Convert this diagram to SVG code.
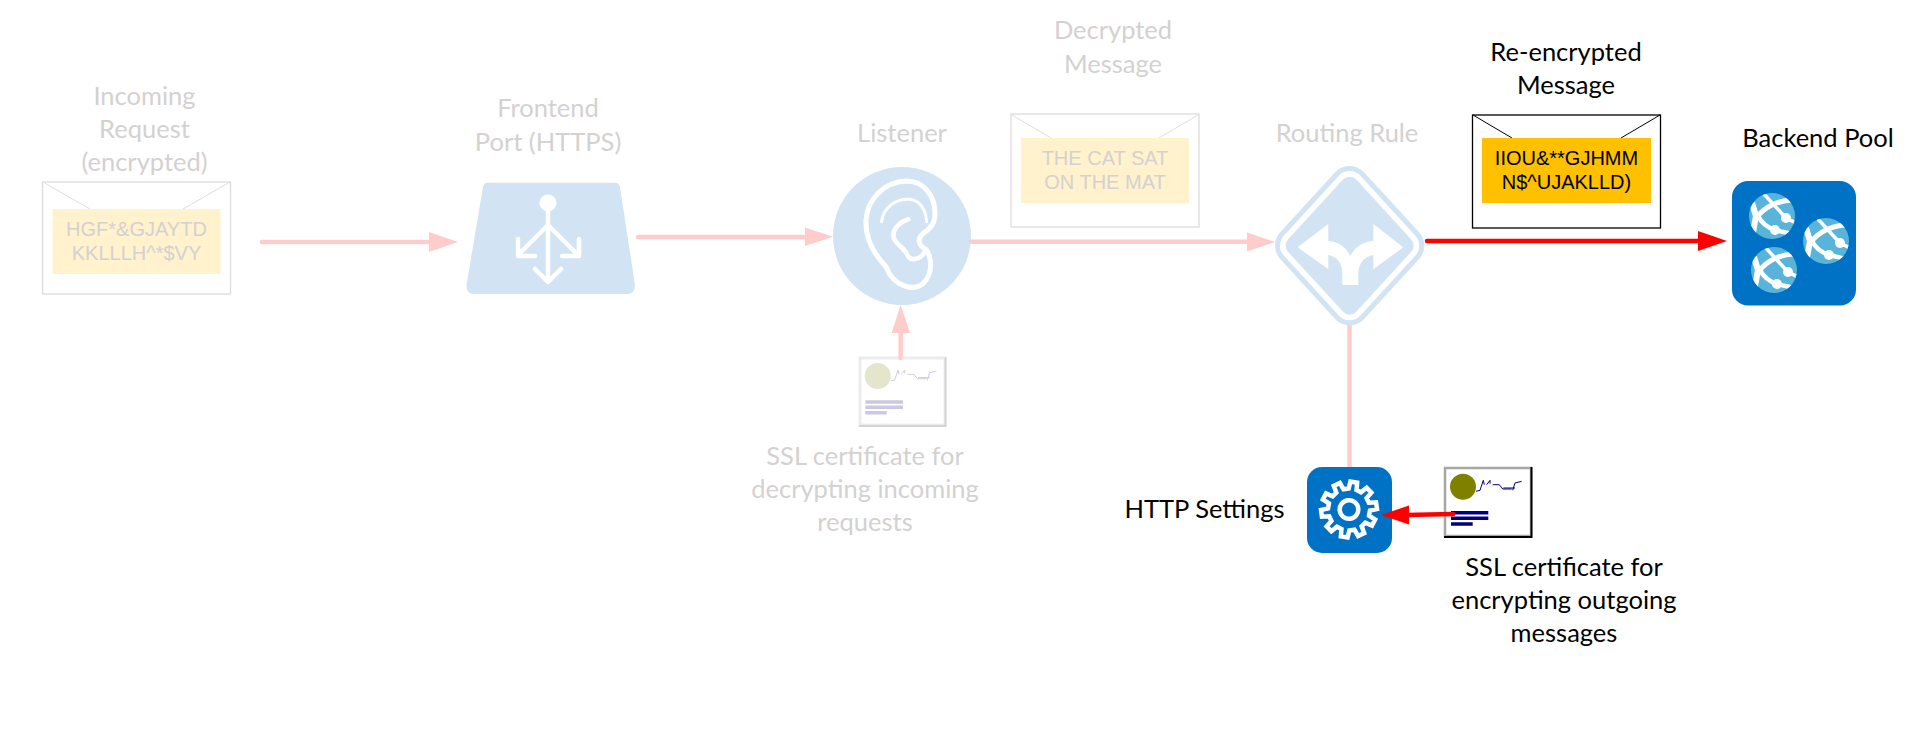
<svg xmlns="http://www.w3.org/2000/svg" width="1912" height="729" viewBox="0 0 1912 729">
<style>
text{font-family:"Lato","Liberation Sans",sans-serif;font-size:25.500px;text-anchor:middle}
.fl{fill:#d4d1d1}.bl{fill:#000}
.msg{font-family:"Liberation Sans",Arial,sans-serif;font-size:20px}
.env{fill:#fff;stroke-width:1.300}
.flap{fill:none;stroke-width:1}
.fade .env{stroke:#dcdcdc}.fade .flap{stroke:#dedede}
.fade .pad{fill:#fff2cc}.fade .msg{fill:#d4d1d1}
.strong .env,.strong .flap{stroke:#000}
.strong .pad{fill:#ffc000}.strong .msg{fill:#000}
.l-f{stroke:#ffcccc;stroke-width:4.500;stroke-linecap:round;fill:none}
.l-r{stroke:#ff0000;stroke-width:4.500;stroke-linecap:round;fill:none}
.h-f{fill:#ffcccc}.h-r{fill:#ff0000}
.wl{fill:none;stroke:#fff;stroke-linecap:round;stroke-linejoin:round}
</style>
<defs>
<clipPath id="gc"><circle r="23"/></clipPath>
<g id="globe">
<circle r="23" fill="#59b4d9"/>
<g clip-path="url(#gc)">
<g fill="none" stroke="#fff">
<path d="M-9 -23L14 2L24 7" stroke-width="3.500"/>
<path d="M22 -16C5 -16 -8 -8 -14 0" stroke-width="5"/>
<path d="M-14 0C-10 8 -3 12 3 14L20 18" stroke-width="4.500"/>
<path d="M-20 -13L-16 0L-20 22" stroke-width="6"/>
</g>
<circle cx="14" cy="2" r="5" fill="#fff"/><circle cx="3" cy="14" r="5" fill="#fff"/>
</g>
</g>
<path id="scribble" fill="none" stroke-width="1" d="M32 24.300L36 23.300L39.300 13.300L40.300 17.700M42.700 17.700L46 13.300V16.700M48.700 17.700H55.300L58.700 22H67.700M59.300 21H71M68.700 23.300L71 16L77.700 14.300"/>
</defs>

<g id="incoming-request" class="fade">
<rect class="env" x="42.500" y="182" width="188" height="112"/>
<path class="flap" d="M43 182L90 209M230 182L183 209"/>
<rect class="pad" x="52.500" y="209" width="168" height="65"/>
<text class="msg" x="136.500" y="236">HGF*&amp;GJAYTD</text>
<text class="msg" x="136.500" y="260">KKLLLH^*$VY</text>
<text class="fl" x="144.500" y="105">Incoming</text>
<text class="fl" x="144.500" y="138">Request</text>
<text class="fl" x="144.500" y="171">(encrypted)</text>
</g>

<g id="frontend-port">
<path fill="#d2e4f3" d="M487 182.700H615Q619 182.700 620 187L635 285Q635 294 627 294H474Q466 294 466.500 285L483 187Q484 182.700 487 182.700Z"/>
<circle cx="548" cy="203" r="8.500" fill="#fff"/>
<path class="wl" stroke-width="4.500" d="M548 205V280M548 225L519 254M548 225L577 254M518 239V256H535M579 239V256H562M535 269L548 282L561 269"/>
<text class="fl" x="548" y="117">Frontend</text>
<text class="fl" x="548" y="151">Port (HTTPS)</text>
</g>

<g id="listener">
<circle cx="902" cy="236" r="69" fill="#d2e4f3"/>
<g transform="translate(780 170) scale(.3333)">
<path class="wl" stroke-width="15" d="M318 290C280 250 255 200 258 150C262 90 310 35 380 33C430 33 465 75 465 130C465 165 450 175 430 190C412 205 412 225 440 240C455 265 460 310 430 340C400 365 340 350 318 290Z"/>
<path class="wl" stroke-width="9" d="M305 155C310 110 350 85 390 88C420 92 438 120 440 155"/>
<path class="wl" stroke-width="14" d="M385 148C350 160 335 185 342 205C350 225 375 235 382 255C390 275 420 270 435 245"/>
</g>
<text class="fl" x="902" y="142">Listener</text>
</g>

<g id="ssl-cert-in">
<rect x="860" y="358" width="85" height="67" fill="#fff" stroke="#ececec" stroke-width="3"/>
<path d="M945.500 357.500V426H859" fill="none" stroke="#d4d4d4" stroke-width="2"/>
<g transform="translate(858.700 356.700)">
<circle cx="19" cy="19.300" r="13" fill="#e5e5cc"/>
<use href="#scribble" stroke="#cfcbe6"/>
<path d="M6.600 45.300H44.300M6.600 50.600H44.300M6.600 56H28" stroke="#ccc8e4" stroke-width="3.500"/>
</g>
<text class="fl" x="865" y="465">SSL certificate for</text>
<text class="fl" x="865" y="498">decrypting incoming</text>
<text class="fl" x="865" y="531">requests</text>
</g>

<g id="decrypted-message" class="fade">
<rect class="env" x="1011" y="114" width="188" height="113"/>
<path class="flap" d="M1012 115L1051 138M1198 115L1159 138"/>
<rect class="pad" x="1021" y="138" width="168" height="65"/>
<text class="msg" x="1105" y="165">THE CAT SAT</text>
<text class="msg" x="1105" y="189">ON THE MAT</text>
<text class="fl" x="1113" y="39">Decrypted</text>
<text class="fl" x="1113" y="73">Message</text>
</g>

<g id="routing-rule">
<g transform="translate(1000 0) scale(.3333)">
<path d="M884 737L1049 557L1214 737L1049 917Z" fill="#d2e4f3" stroke="#d2e4f3" stroke-width="118" stroke-linejoin="round"/>
<path d="M884 737L1049 557L1214 737L1049 917Z" fill="#fff" stroke="#fff" stroke-width="88" stroke-linejoin="round"/>
<path d="M884 737L1049 557L1214 737L1049 917Z" fill="#d2e4f3" stroke="#d2e4f3" stroke-width="54" stroke-linejoin="round"/>
<path fill="#fff" d="M893 742L985 672V722C1020 725 1040 745 1051 768C1062 745 1085 725 1120 722V672L1210 742L1120 808V765C1095 768 1075 790 1075 820V855H1027V820C1027 790 1010 768 985 765V808Z"/>
</g>
<text class="fl" x="1347" y="142">Routing Rule</text>
</g>

<g id="reencrypted-message" class="strong">
<rect class="env" x="1472.500" y="115" width="188" height="113"/>
<path class="flap" d="M1473 115L1512 138M1660 115L1621 138"/>
<rect class="pad" x="1482" y="138" width="169" height="65"/>
<text class="msg" x="1566.500" y="165">IIOU&amp;**GJHMM</text>
<text class="msg" x="1566.500" y="189">N$^UJAKLLD)</text>
<text class="bl" x="1566" y="61">Re-encrypted</text>
<text class="bl" x="1566" y="94">Message</text>
</g>

<g id="backend-pool">
<rect x="1732" y="181" width="124" height="124.500" rx="16" fill="#0072c6"/>
<use href="#globe" x="1772" y="216"/>
<use href="#globe" x="1826" y="241"/>
<use href="#globe" x="1774" y="270"/>
<text class="bl" x="1818" y="147">Backend Pool</text>
</g>

<g id="http-settings">
<rect x="1307" y="467" width="85" height="86" rx="15" fill="#0072c6"/>
<g transform="translate(1349 509.500) rotate(-8)" fill="none" stroke="#fff">
<path stroke-width="4.500" d="M20.600 -4L27.800 -3.400L27.800 3.400L20.600 4L19 8.900L24.500 13.600L20.500 19.100L14.300 15.400L10.200 18.400L11.800 25.400L5.300 27.500L2.600 20.800L-2.600 20.800L-5.300 27.500L-11.800 25.400L-10.200 18.400L-14.300 15.400L-20.500 19.100L-24.500 13.600L-19 8.900L-20.600 4L-27.800 3.400L-27.800 -3.400L-20.600 -4L-19 -8.900L-24.500 -13.600L-20.500 -19.100L-14.300 -15.400L-10.200 -18.400L-11.800 -25.400L-5.300 -27.500L-2.600 -20.800L2.600 -20.800L5.300 -27.500L11.800 -25.400L10.200 -18.400L14.300 -15.400L20.500 -19.100L24.500 -13.600L19 -8.900Z"/>
<circle r="9.300" stroke-width="4.500"/>
</g>
<text class="bl" x="1204.500" y="518">HTTP Settings</text>
</g>

<g id="ssl-cert-out">
<rect x="1445" y="468" width="86" height="68" fill="#fff" stroke="#a6a6a6" stroke-width="2.500"/>
<path d="M1531.500 467V537H1444" fill="none" stroke="#000" stroke-width="2"/>
<g transform="translate(1444 467)">
<circle cx="19" cy="19.700" r="13" fill="#808000"/>
<use href="#scribble" stroke="#000080"/>
<path d="M7 45.700H44.300M7 51.300H44.300M7 57H28.700" stroke="#000080" stroke-width="3.500"/>
</g>
<text class="bl" x="1564" y="576">SSL certificate for</text>
<text class="bl" x="1564" y="609">encrypting outgoing</text>
<text class="bl" x="1564" y="642">messages</text>
</g>

<g id="connectors">
<path class="l-f" d="M262 242H432"/><path class="h-f" d="M429 232L458 242L429 252Z"/>
<path class="l-f" d="M638 237H808"/><path class="h-f" d="M805 227.500L833 236.700L805 246Z"/>
<path class="l-f" d="M900.700 358V330"/><path class="h-f" d="M891.500 333L900.700 305L910 333Z"/>
<path class="l-f" d="M971 241.700H1250"/><path class="h-f" d="M1247 232.500L1275 242L1247 251.500Z"/>
<path class="l-f" d="M1349.500 325V467" style="stroke-linecap:butt"/>
<path class="l-r" d="M1427 241H1701"/><path class="h-r" d="M1698 231L1727 241L1698 251Z"/>
<path class="l-r" d="M1453 514L1406 515"/><path class="h-r" d="M1409 505.500L1381 515L1409 524.500Z"/>
</g>
</svg>
